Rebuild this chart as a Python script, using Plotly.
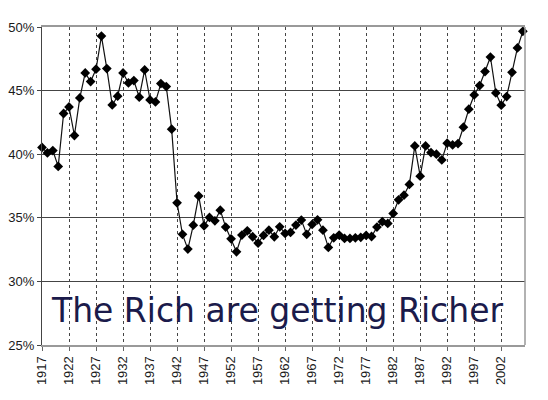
import plotly.graph_objects as go

years = list(range(1917, 2007))
share = [
    40.53, 40.10, 40.29, 39.04, 43.20, 43.72, 41.47, 44.42, 46.39, 45.71,
    46.68, 49.29, 46.73, 43.87, 44.56, 46.39, 45.60, 45.79, 44.48, 46.62,
    44.27, 44.11, 45.55, 45.32, 41.97, 36.18, 33.70, 32.54, 34.42, 36.72,
    34.37, 35.03, 34.76, 35.60, 34.27, 33.35, 32.33, 33.64, 33.98, 33.51,
    33.01, 33.61, 34.03, 33.51, 34.29, 33.77, 33.85, 34.43, 34.82, 33.70,
    34.48, 34.84, 34.03, 32.67, 33.43, 33.64, 33.38, 33.38, 33.43, 33.47,
    33.61, 33.53, 34.27, 34.69, 34.56, 35.34, 36.41, 36.78, 37.62, 40.65,
    38.27, 40.65, 40.13, 40.00, 39.55, 40.87, 40.73, 40.84, 42.12, 43.54,
    44.66, 45.40, 46.50, 47.64, 44.82, 43.85, 44.53, 46.44, 48.35, 49.66,
]
x_ticks = list(range(1917, 2003, 5))
y_ticks = [25, 30, 35, 40, 45, 50]
y_labels = [f"{v}%" for v in y_ticks]
title_text = "The Rich are getting Richer"

fig = go.Figure()
fig.add_trace(go.Scatter(
    x=years, y=share, mode="lines+markers",
    line=dict(color="#111111", width=1.2),
    marker=dict(symbol="diamond", size=7.5, color="#000000"),
    cliponaxis=False, showlegend=False,
))

fig.update_layout(
    width=548, height=400,
    margin=dict(l=42, r=23, t=27, b=55),
    paper_bgcolor="white", plot_bgcolor="white",
    font=dict(family="Liberation Sans, Arial, sans-serif", color="#1a1a1a"),
    xaxis=dict(
        range=[1917, 2006.4], tickvals=x_ticks, ticktext=[str(v) for v in x_ticks],
        tickangle=-90, tickfont=dict(size=13),
        showgrid=True, gridcolor="#444444", gridwidth=1, griddash="3px,3px",
        showline=True, mirror=True, linecolor="#999999", linewidth=2,
        ticks="outside", ticklen=4, tickcolor="#666666",
        zeroline=False, automargin=False,
    ),
    yaxis=dict(
        range=[25, 50], tickvals=y_ticks, ticktext=y_labels,
        tickfont=dict(size=13),
        showgrid=True, gridcolor="#444444", gridwidth=1,
        showline=True, linecolor="#444444", linewidth=1,
        ticks="outside", ticklen=4, tickcolor="#444444",
        zeroline=False, automargin=False,
    ),
    shapes=[dict(type="line", xref="paper", yref="paper", x0=1, x1=1, y0=0, y1=1,
                 line=dict(color="#999999", width=1.5))],
    annotations=[dict(
        text=title_text, xref="paper", yref="paper",
        x=(276.5 - 42) / 483, y=(345 - 310) / 318,
        xanchor="center", yanchor="middle", showarrow=False,
        font=dict(family="DejaVu Sans", size=33, color="#1b1b4b"),
    )],
)

fig.write_html("out.html", config={"displayModeBar": False},
               post_script="document.body.style.margin='0';")
